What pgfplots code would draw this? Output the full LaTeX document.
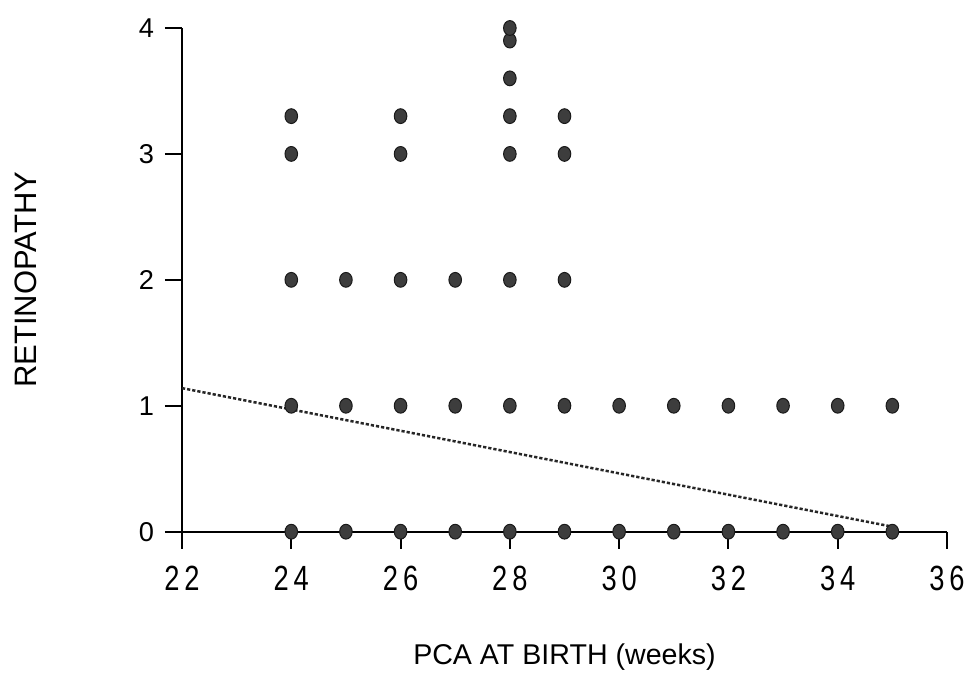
\documentclass[border=0pt]{standalone}
\usepackage{pgfplots}
\pgfplotsset{compat=1.18}
\usepackage{fontspec}
\setmainfont{Liberation Sans}
\newfontfamily\narrowdigits[FakeStretch=0.78,LetterSpace=14]{Liberation Sans}

% retinopathy grade against post-conceptional age at birth
\pgfplotstableread{
x y
24 0
24 1
24 2
24 3
24 3.3
25 0
25 1
25 2
26 0
26 1
26 2
26 3
26 3.3
27 0
27 1
27 2
28 0
28 1
28 2
28 3
28 3.3
28 3.6
28 3.9
28 4
29 0
29 1
29 2
29 3
29 3.3
30 0
30 1
31 0
31 1
32 0
32 1
33 0
33 1
34 0
34 1
35 0
35 1
}\retdata

\begin{document}
\begin{tikzpicture}
\useasboundingbox (-91pt,-73.15pt) rectangle (394pt,265.85pt);
\begin{axis}[
  at={(0,0)}, anchor=south west,
  scale only axis,
  width=382.5pt, height=251.85pt,
  xmin=22, xmax=36, ymin=0, ymax=4,
  axis lines*=left,
  axis line style={line width=1pt},
  tick align=outside,
  major tick length=8.5pt,
  tick style={line width=1pt, black},
  xtick={22,24,...,36},
  xticklabels={22,24,26,28,30,32,34,36},
  ytick={0,1,2,3,4},
  yticklabels={0,1,2,3,4},
  xticklabel style={font=\narrowdigits\fontsize{17.5}{20}\selectfont, anchor=north, yshift=-5pt},
  yticklabel style={font=\fontsize{13.6}{15}\selectfont, anchor=east, xshift=-2pt},
  xlabel={PCA AT BIRTH (weeks)},
  ylabel={RETINOPATHY},
  xlabel style={font=\fontsize{14.3}{16}\selectfont, at={(axis description cs:0.5,-0.249)}, anchor=center},
  ylabel style={font=\fontsize{15.5}{18}\selectfont, at={(axis description cs:-0.204,0.5)}, anchor=center},
  clip=false,
]
% least-squares trend line
\addplot[black!85, line width=1.25pt, dash pattern=on 1.6pt off 1pt]
  coordinates {(22,1.14) (35,0.04)};
\addplot[only marks, mark=*, mark size=3.7pt,
  mark options={xscale=0.85, fill=black!76, draw=black!90, line width=0.5pt}]
  table[x=x, y=y] {\retdata};
\end{axis}
\end{tikzpicture}
\end{document}
